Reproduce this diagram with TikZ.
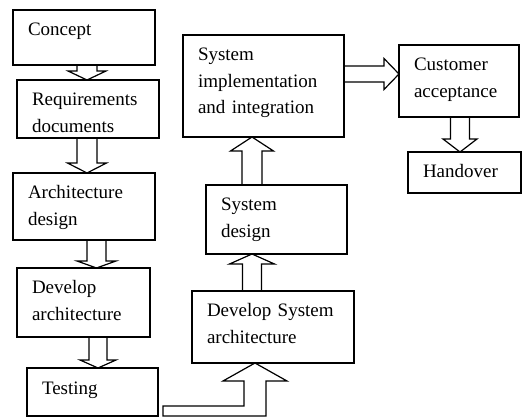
\documentclass[tikz,border=0pt]{standalone}
\usepackage{fontspec}
\setmainfont{Liberation Serif}
\usepackage{tikz}
\usetikzlibrary{calc}

\tikzset{
  stage/.style={draw, line width=1.2pt, anchor=north west, outer sep=0pt,
    inner xsep=15pt, inner ysep=0pt, text height=26pt, align=left,
    font=\fontsize{19}{26.5}\selectfont},
  hollow/.style={draw, line width=1.2pt, line join=miter},
  fat shaft/.store in=\fatshaft,
  fat head/.store in=\fathead,
  fat length/.store in=\fatlength,
  fat shaft=9.5pt, fat head=19.5pt, fat length=9pt
}

% outlined block arrow from tail point to tip point
\newcommand{\fatarrow}[3][]{%
  \begin{scope}[#1]
    \path #2 coordinate (tail) #3 coordinate (tip);
    \draw[hollow] ($(tail)!\fatshaft!90:(tip)$)
      -- ($(tip)!\fatlength!(tail)!\fatshaft!90:(tip)$)
      -- ($(tip)!\fatlength!(tail)!\fathead!90:(tip)$)
      -- (tip)
      -- ($(tip)!\fatlength!(tail)!\fathead!-90:(tip)$)
      -- ($(tip)!\fatlength!(tail)!\fatshaft!-90:(tip)$)
      -- ($(tail)!\fatshaft!-90:(tip)$);
  \end{scope}}

\begin{document}
\begin{tikzpicture}[x=1pt, y=-1pt]
    \useasboundingbox (0,0) rectangle (523,417);

    % left column
    \node[stage, text width=112pt, text depth=29pt] (concept) at (13,10) {Concept};
    \node[stage, text width=112pt, text depth=32pt] (req) at (17,80) {Requirements\\documents};
    \node[stage, text width=112pt, text depth=41pt] (arch) at (13,173) {Architecture\\design};
    \node[stage, text width=103pt, text depth=43pt] (dev) at (17,268) {Develop\\architecture};
    \node[stage, text width=101pt, text depth=22pt] (test) at (27,368) {Testing};

    % middle column
    \node[stage, text width=132pt, text depth=46pt] (devsys) at (192,291) {Develop System\\architecture};
    \node[stage, text width=111pt, text depth=43pt] (sysdes) at (206,185) {System\\design};
    \node[stage, text width=131pt, text depth=76pt] (sysimpl) at (183,35) {System\\implementation\\and integration};

    % right column
    \node[stage, text width=90pt, text depth=46pt] (cust) at (399,45) {Customer\\acceptance};
    \node[stage, text width=83pt, text depth=15pt] (hand) at (408,152) {Handover};

    \fatarrow[fat shaft=10pt, fat head=19pt]{(concept.south -| 87,0)}{(req.north -| 87,0)}
    \fatarrow[fat shaft=10pt, fat length=10pt]{(req.south -| 87,0)}{(arch.north -| 87,0)}
    \fatarrow[fat length=7pt]{(arch.south -| 96.5,0)}{(dev.north -| 96.5,0)}
    \fatarrow[fat shaft=9pt, fat head=18pt, fat length=8pt]{(dev.south -| 98,0)}{(test.north -| 98,0)}

    % testing feeds the system branch
    \draw[hollow] ($(test.south east)+(5,0)$) -- ++(0,-10) -- (244,406) -- (244,381)
      -- (223,381) -- (devsys.south -| 255,0) -- (287,381) -- (266,381) -- (266,416) -- cycle;

    \fatarrow[fat head=22.5pt, fat length=10pt]{(devsys.north -| 252,0)}{(sysdes.south -| 252,0)}
    \fatarrow[fat shaft=10pt, fat head=21.5pt, fat length=14pt]{(sysdes.north -| 252,0)}{(sysimpl.south -| 252,0)}
    \fatarrow[fat shaft=8pt, fat head=15.5pt, fat length=15pt]{(sysimpl.east |- 0,74)}{(cust.west |- 0,74)}
    \fatarrow[fat head=17pt, fat length=13pt]{(cust.south -| 460,0)}{(hand.north -| 460,0)}
\end{tikzpicture}
\end{document}
